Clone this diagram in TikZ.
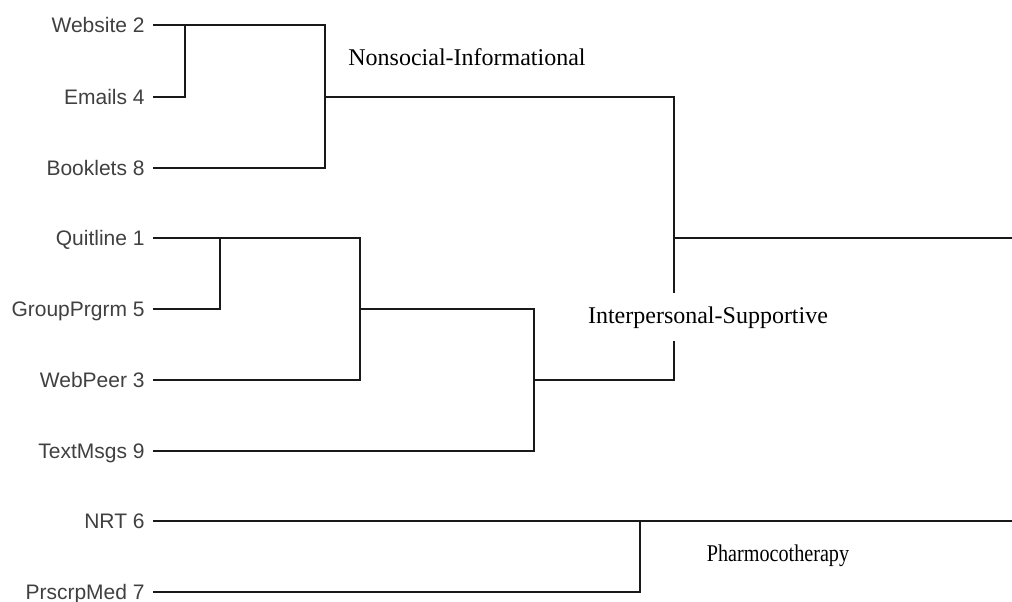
\documentclass[tikz,border=0pt]{standalone}
\usepackage{fontspec}
\setmainfont{Liberation Serif}
\setsansfont{Liberation Sans}
\usetikzlibrary{positioning}
\tikzset{
  leaf/.style={anchor=east, inner xsep=4pt, inner ysep=0pt,
               text height=7.5pt, text depth=0pt,
               font=\sffamily\fontsize{10.5}{12}\selectfont, text=black!75},
  link/.style={line width=1.45pt, draw=black!90},
  cluster/.style={font=\fontsize{12}{14}\selectfont, inner sep=0pt}
}

\begin{document}
\begin{tikzpicture}[x=0.5pt, y=-0.5pt]
  \useasboundingbox (0,0) rectangle (1012,601);
  % leaves
  \node[leaf] (web) at (153,25)  {Website 2};
  \node[leaf] (eml) at (153,97)  {Emails 4};
  \node[leaf] (bkl) at (153,168) {Booklets 8};
  \node[leaf] (qln) at (153,238) {Quitline 1};
  \node[leaf] (grp) at (153,309) {GroupPrgrm 5};
  \node[leaf] (wpr) at (153,380) {WebPeer 3};
  \node[leaf] (txt) at (153,451) {TextMsgs 9};
  \node[leaf] (nrt) at (153,521) {NRT 6};
  \node[leaf] (prx) at (153,592) {PrscrpMed 7};
  % cluster labels
  \node[cluster] (nsi) at (467,57) {Nonsocial-Informational};
  \node[cluster, text height=8.5pt, text depth=2.5pt, inner ysep=6.5pt] (isp) at (708,317) {Interpersonal-Supportive};
  \node[cluster] (pht) at (778,556) {\scalebox{0.84}[1]{Pharmocotherapy}};
  % joins
  \coordinate (j1) at (185,25);
  \coordinate (j2) at (325,97);
  \coordinate (j3) at (220,238);
  \coordinate (j4) at (360,309);
  \coordinate (j5) at (534,380);
  \coordinate (j6) at (674,238);
  \coordinate (j7) at (640,521);
  \coordinate (out1) at (1012,238);
  \coordinate (out2) at (1012,521);
  \draw[link] (eml.east) -| (j1);
  \draw[link] (web.east) -| (j2) |- (bkl.east);
  \draw[link] (grp.east) -| (j3);
  \draw[link] (qln.east) -| (j4) |- (wpr.east);
  \draw[link] (j4) -| (j5) |- (txt.east);
  \draw[link] (j2) -| (isp.north -| j6);
  \draw[link] (isp.south -| j6) |- (j5);
  \draw[link] (j6) -- (out1);
  \draw[link] (nrt.east) -- (out2);
  \draw[link] (prx.east) -| (j7);
\end{tikzpicture}
\end{document}
